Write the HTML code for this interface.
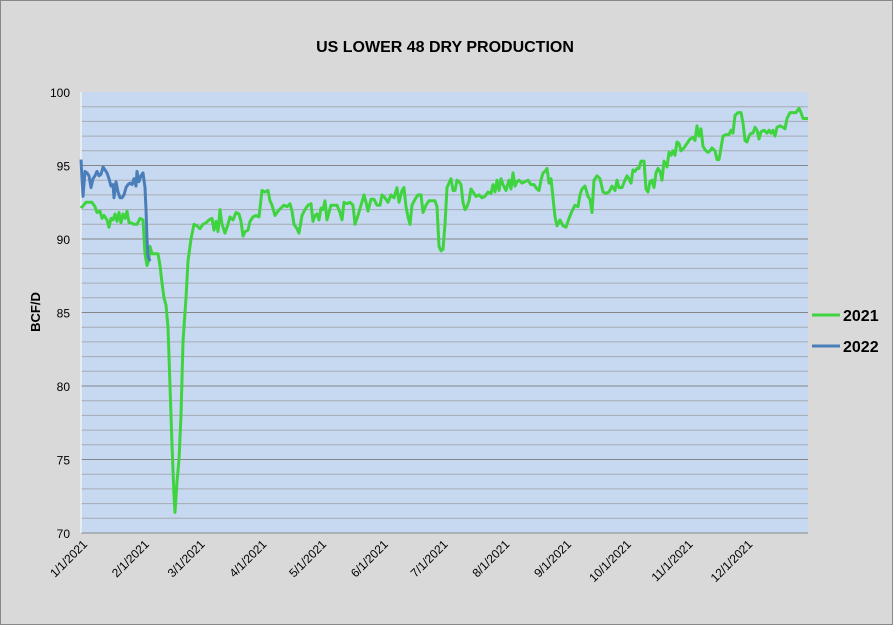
<!DOCTYPE html>
<html><head><style>
body{margin:0;background:#d9d9d9;}
svg{display:block;font-family:"Liberation Sans",sans-serif;}
</style></head><body>
<svg id="s" width="893" height="625" xmlns="http://www.w3.org/2000/svg">
<rect x="0.5" y="0.5" width="892" height="624" fill="#d9d9d9" stroke="#888"/>
<text x="445" y="52" text-anchor="middle" font-size="16" font-weight="bold">US LOWER 48 DRY PRODUCTION</text>
<rect x="81" y="92" width="727" height="441" fill="#c6d9f1"/>
<g id="grid"></g>
<g id="ylab" font-size="12" text-anchor="end"></g>
<g id="xlab" font-size="12"></g>
<text transform="translate(40,312) rotate(-90)" text-anchor="middle" font-size="13" font-weight="bold">BCF/D</text>
<polyline id="g" fill="none" stroke="#3fd43f" stroke-width="3" stroke-linejoin="round"/>
<polyline id="b" fill="none" stroke="#4a7ebb" stroke-width="3" stroke-linejoin="round"/>
<line x1="812" y1="315" x2="840" y2="315" stroke="#3fd43f" stroke-width="3"/>
<text x="843" y="321" font-size="16" font-weight="bold">2021</text>
<line x1="812" y1="346" x2="840" y2="346" stroke="#4a7ebb" stroke-width="3"/>
<text x="843" y="352" font-size="16" font-weight="bold">2022</text>
</svg>
<script>
var NS="http://www.w3.org/2000/svg";
function Y(v){return 533-(v-70)*14.7;}
var grid=document.getElementById("grid"),yl=document.getElementById("ylab"),xl=document.getElementById("xlab");
for(var v=70;v<=100;v++){var l=document.createElementNS(NS,"line");l.setAttribute("x1",81);l.setAttribute("x2",808);l.setAttribute("y1",Y(v));l.setAttribute("y2",Y(v));
l.setAttribute("stroke",v%5==0?"#868686":"#a6aab2");l.setAttribute("stroke-width",v==100?0:1);grid.appendChild(l);
if(v%5==0){var t=document.createElementNS(NS,"text");t.setAttribute("x",70);t.setAttribute("y",Y(v)+5);t.textContent=v;yl.appendChild(t);}}
var ax=document.createElementNS(NS,"line");ax.setAttribute("x1",81);ax.setAttribute("x2",808);ax.setAttribute("y1",533);ax.setAttribute("y2",533);ax.setAttribute("stroke","#868686");grid.appendChild(ax);
var ay=document.createElementNS(NS,"line");ay.setAttribute("x1",81);ay.setAttribute("x2",81);ay.setAttribute("y1",92);ay.setAttribute("y2",533);ay.setAttribute("stroke","#fff");grid.appendChild(ay);
var days=[0,31,59,90,120,151,181,212,243,273,304,334];
days.forEach(function(d,i){var x=81+d*727/365;var t=document.createElementNS(NS,"text");
t.setAttribute("transform","translate("+(x+7)+",545) rotate(-45)");t.setAttribute("text-anchor","end");t.textContent=(i+1)+"/1/2021";xl.appendChild(t);});
var G=[81,92.1,86,92.5,92,92.5,95,92.2,97,91.8,100,91.9,102,91.4,104,91.6,107,91.3,109,90.8,111,91.4,113,91.3,115,91.7,117,91.2,119,91.8,121,91.1,123,91.7,125,91.4,127,91.9,129,91.1,131,91.1,134,91.0,137,91.0,140,91.4,143,91.3,145,89.0,147,88.2,149,88.6,150,89.5,152,89.0,155,89.0,158,89.0,160,88.2,162,87.0,164,86.0,166,85.5,168,84.0,170,80,172,76,174,72.5,175,71.4,177,73.5,179,75,181,78,183,83,186,86,188,88.5,191,90,194,91,197,90.9,200,90.7,203,91.0,206,91.1,209,91.3,212,91.4,214,90.6,216,91.2,218,90.5,220,92.0,222,91.0,225,90.4,228,91.0,230,91.5,233,91.3,236,91.8,239,91.7,241,91.2,243,90.2,245,90.5,248,90.6,250,91.2,253,91.5,256,91.6,259,91.5,262,93.3,265,93.2,268,93.3,270,92.6,272,92.3,275,91.6,278,91.9,281,92.1,284,92.3,287,92.2,290,92.4,292,91.9,294,91.0,297,90.7,299,90.4,302,91.6,305,92.0,308,92.3,311,92.4,313,91.2,315,91.6,317,91.7,319,91.3,321,92.1,323,92.0,325,92.6,327,91.3,329,91.8,331,92.3,334,92.3,337,92.3,340,91.8,342,91.3,344,92.5,347,92.4,350,92.5,353,92.3,355,91.0,358,91.6,361,92.3,364,93.0,366,92.5,368,91.9,371,92.7,374,92.7,377,92.3,380,92.3,382,93.0,385,92.8,388,92.5,391,93.0,394,92.8,397,93.5,399,92.5,402,93.3,404,93.5,406,92.2,408,91.5,410,91.0,412,92.3,415,92.7,418,93.0,421,93.0,423,91.8,426,92.3,429,92.6,432,92.6,435,92.6,437,92.2,439,89.5,441,89.2,443,89.3,445,91.0,447,93.5,449,93.8,451,94.1,453,93.3,455,93.3,457,94.0,459,93.9,461,93.7,463,92.5,465,92.0,467,92.2,469,92.6,471,93.4,473,93.2,476,92.9,479,93.0,482,92.8,485,92.9,488,93.2,491,93.1,493,93.7,495,93.2,497,94.0,499,93.3,501,94.1,503,93.7,506,93.3,509,94.0,511,93.4,513,94.5,515,93.6,517,93.9,519,94.0,522,93.8,525,93.9,528,94.0,531,93.7,534,93.7,537,93.4,539,93.3,541,94.0,543,94.5,545,94.6,547,94.8,549,93.8,551,94.1,553,92.8,555,91.5,557,90.9,560,91.3,563,90.9,566,90.8,569,91.4,572,91.9,575,92.3,578,92.2,580,93.0,582,93.4,585,93.6,588,92.9,590,92.7,592,91.8,594,94.0,597,94.3,600,94.1,603,93.2,606,93.1,609,93.2,612,93.6,615,93.3,617,94.0,619,93.5,622,93.5,625,94.0,627,94.3,629,94.1,631,93.8,633,94.7,635,94.6,637,94.8,639,94.8,641,95.3,644,95.3,646,93.4,648,93.2,650,93.9,652,94.0,654,93.5,656,94.5,658,94.8,660,94.6,662,94.0,664,95.3,667,94.9,669,95.9,671,95.7,673,96.0,675,95.7,677,96.6,679,96.5,681,96.0,684,96.2,686,96.4,688,96.6,690,96.8,693,96.9,695,96.7,697,97.7,699,97.0,701,97.5,703,96.3,706,96.0,708,95.9,710,96.0,712,96.2,715,96.0,717,95.4,719,95.4,721,96.2,723,97.0,726,97.1,729,97.1,731,97.4,733,97.2,735,98.4,738,98.6,741,98.6,743,97.9,745,96.7,747,96.6,749,97.0,751,97.2,753,97.2,755,97.6,757,97.4,759,96.8,761,97.3,764,97.4,767,97.2,769,97.4,771,97.2,773,97.4,775,97.0,777,97.6,780,97.7,783,97.6,785,97.5,787,98.2,790,98.6,793,98.6,796,98.6,799,98.9,801,98.6,803,98.2,806,98.2,808,98.2];
var B=[81,95.4,83,92.9,85,94.6,87,94.5,89,94.3,91,93.5,93,94.1,95,94.3,97,94.6,99,94.3,101,94.4,103,94.9,105,94.7,107,94.5,109,94.1,111,93.6,113,93.7,114,92.8,116,93.9,118,93.2,120,92.8,122,92.8,124,93.0,126,93.5,128,93.7,130,93.8,132,93.7,134,94.1,136,93.6,137,94.6,139,93.9,141,94.3,143,94.5,145,93.5,146,92.0,147,90,148,88.8,150,88.5];
function pts(a){var s=[];for(var i=0;i<a.length;i+=2)s.push(a[i]+","+Y(a[i+1]).toFixed(1));return s.join(" ");}
document.getElementById("g").setAttribute("points",pts(G));
document.getElementById("b").setAttribute("points",pts(B));
</script>
</body></html>
